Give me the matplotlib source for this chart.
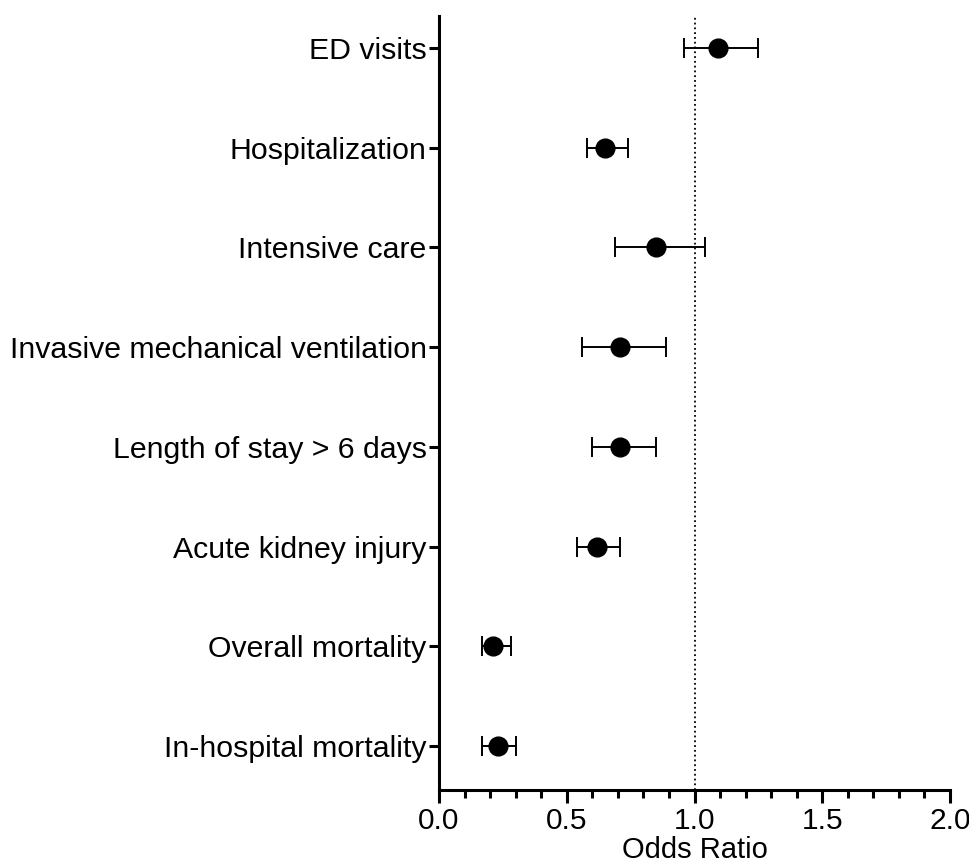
import numpy as np
import matplotlib
matplotlib.use('Agg')
import matplotlib.pyplot as plt
from matplotlib.ticker import MultipleLocator

plt.rcParams['font.family'] = ['Liberation Sans', 'DejaVu Sans']

# Outcomes, top to bottom
outcomes = ['ED visits', 'Hospitalization', 'Intensive care',
            'Invasive mechanical ventilation', 'Length of stay > 6 days',
            'Acute kidney injury', 'Overall mortality', 'In-hospital mortality']
odds_ratio = [1.09, 0.65, 0.85, 0.71, 0.71, 0.62, 0.21, 0.23]
ci_low = [0.96, 0.58, 0.69, 0.56, 0.60, 0.54, 0.17, 0.17]
ci_high = [1.25, 0.74, 1.04, 0.89, 0.85, 0.71, 0.28, 0.30]

fig = plt.figure(figsize=(9.7, 8.63), dpi=100)
ax = fig.add_axes([0.4526, 0.0846, 0.5268, 0.8969])

y = np.arange(len(outcomes))[::-1]
or_arr = np.array(odds_ratio)
xerr = [or_arr - np.array(ci_low), np.array(ci_high) - or_arr]

ax.axvline(1.0, color='black', linestyle=':', linewidth=1.3, zorder=1)
ax.errorbar(odds_ratio, y, xerr=xerr, fmt='o', color='black',
            markersize=13.5, elinewidth=1.4, capsize=7, capthick=1.4,
            zorder=3)

ax.set_xlim(0, 2.0)
ax.set_ylim(-0.44, 7.32)
ax.set_yticks(y)
ax.set_yticklabels(outcomes, fontsize=21.8)
ax.xaxis.set_major_locator(MultipleLocator(0.5))
ax.xaxis.set_minor_locator(MultipleLocator(0.1))
ax.xaxis.set_major_formatter(matplotlib.ticker.FormatStrFormatter('%.1f'))
ax.tick_params(axis='x', which='major', length=9, width=2.2, labelsize=21.5, pad=3)
ax.tick_params(axis='x', which='minor', length=6, width=2.2)
ax.tick_params(axis='y', length=7, width=2.2, pad=2)
ax.set_xlabel('Odds Ratio', fontsize=21, labelpad=1)

for side in ['top', 'right']:
    ax.spines[side].set_visible(False)
for side in ['left', 'bottom']:
    ax.spines[side].set_linewidth(2.2)

fig.savefig('out.png', dpi=100)
